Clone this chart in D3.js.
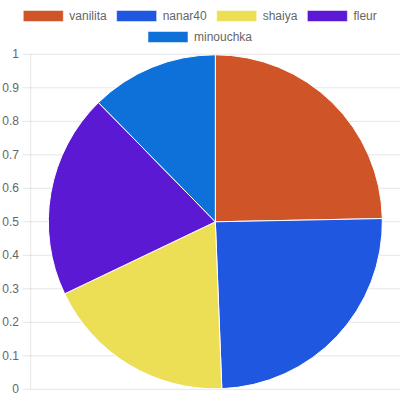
<!DOCTYPE html>
<html>
<head>
<meta charset="utf-8">
<script src="https://cdn.jsdelivr.net/npm/d3@7"></script>
<style>
  html, body { margin: 0; padding: 0; background: #fff; }
  svg { display: block; }
  text { font-family: "Liberation Sans", Arial, Helvetica, sans-serif; }
</style>
</head>
<body>
<svg id="chart" width="400" height="400"></svg>
<script>
const categories = ["vanilita", "nanar40", "shaiya", "fleur", "minouchka"];
const values = [20, 20, 15, 16, 10];
const colors = ["#CF5428", "#2057E0", "#ECDF55", "#5B19D3", "#0E71D9"];
const yTicks = [0, 0.1, 0.2, 0.3, 0.4, 0.5, 0.6, 0.7, 0.8, 0.9, 1];

(function () {
const W = 400, H = 400;
const svg = d3.select("#chart");

// Legend (Chart.js style, centred rows)
const boxW = 40, boxH = 10, gap = 6, pad = 10, fontSize = 12;
const meas = svg.append("text").attr("font-size", fontSize).attr("visibility", "hidden");
const items = categories.map((c, i) => {
  meas.text(c);
  const tw = meas.node().getComputedTextLength();
  return { name: c, color: colors[i], w: boxW + gap + tw };
});
meas.remove();
const rows = [[]];
let acc = 0;
items.forEach(it => {
  const add = (rows[rows.length - 1].length ? pad : 0) + it.w;
  if (acc + add > W - 2 * pad && rows[rows.length - 1].length) {
    rows.push([it]); acc = it.w;
  } else { rows[rows.length - 1].push(it); acc += add; }
});
const legend = svg.append("g");
rows.forEach((row, r) => {
  const total = d3.sum(row, d => d.w) + pad * (row.length - 1);
  let x = (W - total) / 2;
  const cy = 16 + r * 21;
  row.forEach(it => {
    legend.append("rect").attr("x", x).attr("y", cy - boxH / 2 - 0.5)
      .attr("width", boxW).attr("height", boxH + 1)
      .attr("fill", it.color).attr("stroke", "#fff").attr("stroke-opacity", 0.5).attr("stroke-width", 1);
    legend.append("text").attr("x", x + boxW + gap).attr("y", cy)
      .attr("dominant-baseline", "central").attr("font-size", fontSize)
      .attr("fill", "#666").text(it.name);
    x += it.w + pad;
  });
});

// Axis area
const areaLeft = 30.7, areaTop = 54.3, areaBottom = 389.3, areaRight = 400;
const y = d3.scaleLinear().domain([0, 1]).range([areaBottom, areaTop]);

const grid = svg.append("g");
yTicks.forEach(t => {
  grid.append("line").attr("x1", 22.7).attr("x2", areaRight)
    .attr("y1", y(t)).attr("y2", y(t))
    .attr("stroke", "rgba(0,0,0,0.1)").attr("stroke-width", 1);
  grid.append("text").attr("x", 19).attr("y", y(t))
    .attr("text-anchor", "end").attr("dominant-baseline", "central")
    .attr("font-size", fontSize).attr("fill", "#666").text(d3.format("~g")(t));
});
grid.append("line").attr("x1", areaLeft).attr("x2", areaLeft).attr("y1", areaTop).attr("y2", areaBottom)
  .attr("stroke", "rgba(0,0,0,0.1)").attr("stroke-width", 1);

// Pie
const pcx = (areaLeft + areaRight) / 2, pcy = (areaTop + areaBottom) / 2;
const radius = Math.min(areaRight - areaLeft, areaBottom - areaTop) / 2 - 0.5;
const pie = d3.pie().sort(null).value(d => d);
const arc = d3.arc().innerRadius(0).outerRadius(radius);
svg.append("g").attr("transform", `translate(${pcx},${pcy})`)
  .selectAll("path").data(pie(values)).join("path")
  .attr("d", arc).attr("fill", (d, i) => colors[i])
  .attr("stroke", "#fff").attr("stroke-width", 1);
})();
</script>
</body>
</html>
